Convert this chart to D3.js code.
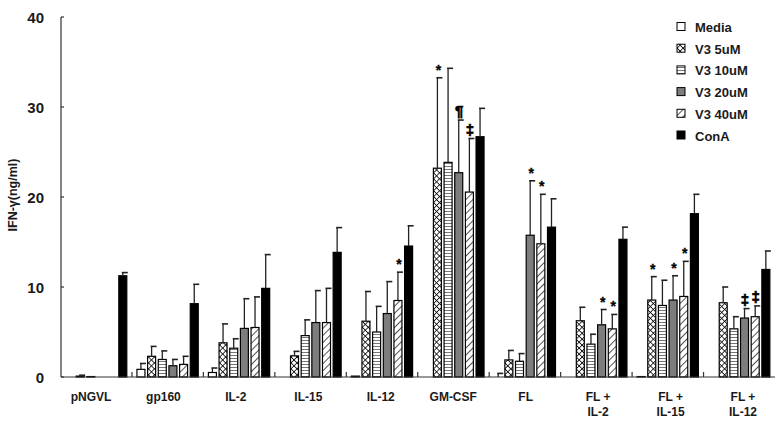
<!DOCTYPE html>
<html><head><meta charset="utf-8">
<script src="https://cdn.jsdelivr.net/npm/d3@7"></script>
<style>
html,body{margin:0;padding:0;background:#fff;}
text{font-family:Arial,"Liberation Sans",sans-serif;font-weight:bold;fill:#1a1a1a;}
</style></head>
<body><svg id="chart" width="780" height="424"></svg>
<script>
const categories = ["pNGVL","gp160","IL-2","IL-15","IL-12","GM-CSF","FL","FL +\nIL-2","FL +\nIL-15","FL +\nIL-12"];
const seriesNames = ["Media","V3 5uM","V3 10uM","V3 20uM","V3 40uM","ConA"];
const media  = [0, 0.85, 0.5, 0, 0.1, 0, 0, 0, 0.05, 0];
const v3_5   = [0.1, 2.3, 3.8, 2.35, 6.2, 23.2, 1.9, 6.25, 8.55, 8.25];
const v3_10  = [0.05, 1.95, 3.2, 4.6, 5.0, 23.85, 1.75, 3.65, 7.95, 5.35];
const v3_20  = [0, 1.25, 5.4, 6.05, 7.05, 22.7, 15.75, 5.8, 8.55, 6.55];
const v3_40  = [0, 1.4, 5.5, 6.05, 8.5, 20.55, 14.8, 5.35, 8.95, 6.7];
const conA   = [11.25, 8.15, 9.85, 13.85, 14.55, 26.7, 16.65, 15.3, 18.15, 11.95];
const mediaErr = [0, 0.65, 0.5, 0, 0, 0, 0.4, 0, 0, 0];
const v3_5Err  = [0.1, 1.1, 2.1, 0.5, 3.3, 10.05, 1.05, 1.5, 2.6, 1.75];
const v3_10Err = [0, 0.95, 1.05, 1.75, 2.85, 10.45, 0.85, 1.1, 2.8, 1.35];
const v3_20Err = [0, 0.7, 3.3, 3.55, 3.55, 5.85, 6.05, 1.7, 2.7, 1.05];
const v3_40Err = [0, 0.9, 3.4, 3.8, 3.15, 5.95, 5.5, 1.6, 3.9, 1.2];
const conAErr  = [0.35, 2.15, 3.75, 2.75, 2.25, 3.15, 3.15, 1.35, 2.15, 2.05];
const yTicks = [0, 10, 20, 30, 40];
// significance marks: [category index, series index, symbol]
const marks = [[4,4,"*"],[5,1,"*"],[5,3,"¶"],[5,4,"‡"],[6,3,"*"],[6,4,"*"],[7,3,"*"],[7,4,"*"],[8,1,"*"],[8,3,"*"],[8,4,"*"],[9,3,"‡"],[9,4,"‡"]];

const values = [media, v3_5, v3_10, v3_20, v3_40, conA];
const errors = [mediaErr, v3_5Err, v3_10Err, v3_20Err, v3_40Err, conAErr];

const svg = d3.select("#chart");
const defs = svg.append("defs");
// patterns
const pCross = defs.append("pattern").attr("id","p1").attr("patternUnits","userSpaceOnUse")
  .attr("width",4.2).attr("height",4.2).attr("patternTransform","rotate(45)");
pCross.append("rect").attr("width",4.2).attr("height",4.2).attr("fill","#fff");
pCross.append("line").attr("x1",0).attr("y1",0.4).attr("x2",4.2).attr("y2",0.4).attr("stroke","#111").attr("stroke-width",0.85);
pCross.append("line").attr("x1",0.4).attr("y1",0).attr("x2",0.4).attr("y2",4.2).attr("stroke","#111").attr("stroke-width",0.85);
const pHor = defs.append("pattern").attr("id","p2").attr("patternUnits","userSpaceOnUse").attr("width",6).attr("height",3);
pHor.append("rect").attr("width",6).attr("height",3).attr("fill","#fff");
pHor.append("line").attr("x1",0).attr("y1",1.5).attr("x2",6).attr("y2",1.5).attr("stroke","#666").attr("stroke-width",0.9);
const pDiag = defs.append("pattern").attr("id","p4").attr("patternUnits","userSpaceOnUse")
  .attr("width",5).attr("height",5).attr("patternTransform","rotate(45)");
pDiag.append("rect").attr("width",5).attr("height",5).attr("fill","#fff");
pDiag.append("line").attr("x1",0.5).attr("y1",0).attr("x2",0.5).attr("y2",5).attr("stroke","#333").attr("stroke-width",0.85);

const fills = ["#fff","url(#p1)","url(#p2)","#7d7d7d","url(#p4)","#000"];

const x0 = d3.scaleBand().domain(d3.range(categories.length)).range([60.5, 775]).padding(0);
const x1 = d3.scaleBand().domain(d3.range(seriesNames.length)).range([5, 66.3]).paddingInner(0.25).paddingOuter(0);
const y = d3.scaleLinear().domain([0, 40]).range([377, 17]);
const xLab = d3.scalePoint().domain(d3.range(categories.length)).range([91, 743]);

// bars
const g = svg.append("g");
values.forEach((arr, si) => {
  g.selectAll(null).data(arr).enter().append("rect")
    .attr("x", (d,i) => x0(i) + x1(si))
    .attr("y", d => y(d))
    .attr("width", x1.bandwidth())
    .attr("height", d => Math.max(0, y(0) - y(d)))
    .attr("fill", fills[si])
    .attr("stroke", "#000").attr("stroke-width", 1.2);
});
// error bars
values.forEach((arr, si) => {
  arr.forEach((v, i) => {
    const e = errors[si][i];
    if (e <= 0) return;
    const cx = x0(i) + x1(si) + x1.bandwidth()/2;
    g.append("line").attr("x1",cx).attr("x2",cx).attr("y1",y(v)).attr("y2",y(v+e))
      .attr("stroke","#222").attr("stroke-width",1.3);
    g.append("line").attr("x1",cx-1).attr("x2",cx+5).attr("y1",y(v+e)).attr("y2",y(v+e))
      .attr("stroke","#222").attr("stroke-width",1.6);
  });
});
// marks
marks.forEach(([ci, si, sym]) => {
  const cx = x0(ci) + x1(si) + x1.bandwidth()/2;
  const top = y(values[si][ci] + errors[si][ci]);
  const star = sym === "*";
  svg.append("text").attr("x", cx + (star?1:0.5)).attr("y", top - (star?3:4))
    .attr("text-anchor","middle").attr("font-size", star?14:15)
    .style("fill","#000").style("stroke","#000").style("stroke-width", star?0.3:0.7)
    .text(sym);
});

// axes
svg.append("line").attr("x1",61).attr("x2",61).attr("y1",y(40)).attr("y2",y(0)).attr("stroke","#333").attr("stroke-width",1.2);
svg.append("line").attr("x1",61).attr("x2",775).attr("y1",y(0)).attr("y2",y(0)).attr("stroke","#333").attr("stroke-width",1.2);
yTicks.forEach(t => {
  svg.append("line").attr("x1",61).attr("x2",64).attr("y1",y(t)).attr("y2",y(t)).attr("stroke","#333").attr("stroke-width",1.2);
  svg.append("text").attr("x",44).attr("y",y(t)+5.5).attr("text-anchor","end").attr("font-size",15).text(t);
});
d3.range(1, categories.length).forEach(i => {
  svg.append("line").attr("x1",x0(i)).attr("x2",x0(i)).attr("y1",y(0)).attr("y2",y(0)-5).attr("stroke","#333").attr("stroke-width",1.2);
});
categories.forEach((c, i) => {
  const lines = c.split("\n");
  const t = svg.append("text").attr("x", xLab(i)).attr("y", 401).attr("text-anchor","middle").attr("font-size",12);
  lines.forEach((l, k) => t.append("tspan").attr("x", xLab(i)).attr("dy", k===0?0:15).text(l));
});
svg.append("text").attr("transform","translate(17,195) rotate(-90)").attr("text-anchor","middle").attr("font-size",12.5).text("IFN-γ(ng/ml)");

// legend
const leg = svg.append("g");
seriesNames.forEach((s, i) => {
  const cy = 27 + i*21.7;
  leg.append("rect").attr("x",677).attr("y",cy-4.5).attr("width",8).attr("height",8)
    .attr("fill",fills[i]).attr("stroke","#000").attr("stroke-width",1);
  leg.append("text").attr("x",695).attr("y",cy+5).attr("font-size",13).text(s);
});
</script></body></html>
